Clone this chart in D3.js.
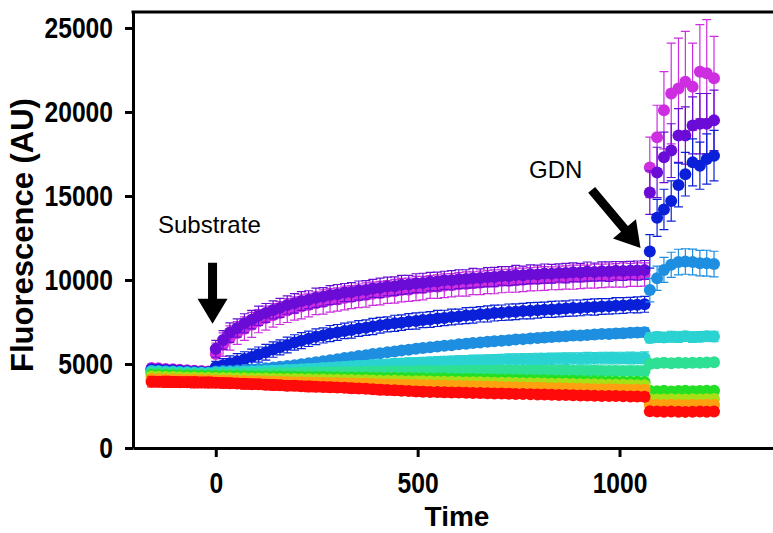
<!DOCTYPE html>
<html>
<head>
<meta charset="utf-8">
<script src="https://cdn.jsdelivr.net/npm/d3@7"></script>
<style>
  body { margin: 0; background: #fff; }
  text { font-family: "Liberation Sans", Arial, sans-serif; }
</style>
</head>
<body>
<div class="container"></div>
<script>
// time (s): 9 reads before substrate, 61 after substrate, 10 after GDN
var time = [-159, -142, -124, -106, -89, -71, -53, -35, -18,
  0, 18, 35, 53, 71, 89, 106, 124, 142, 159, 177, 195, 212, 230, 248, 266, 283, 301, 319, 336,
  354, 372, 389, 407, 425, 443, 460, 478, 496, 513, 531, 549, 566, 584, 602, 620, 637, 655, 673, 690,
  708, 726, 743, 761, 779, 797, 814, 832, 850, 867, 885, 903, 920, 938, 956, 974, 991, 1009, 1027, 1044, 1062,
  1075, 1093, 1110, 1128, 1146, 1163, 1181, 1199, 1216, 1234];

var magenta = [4760, 4740, 4700, 4690, 4650, 4630, 4600, 4580, 4560,
  5600, 6150, 6550, 6850, 7100, 7330, 7550, 7730, 7900, 8030, 8180, 8300, 8420, 8510, 8620, 8690, 8790, 8840, 8930, 8980,
  9060, 9110, 9180, 9220, 9290, 9330, 9400, 9420, 9490, 9520, 9580, 9600, 9660, 9690, 9740, 9760, 9810, 9830, 9880, 9890,
  9940, 9950, 9990, 10010, 10040, 10060, 10090, 10100, 10130, 10150, 10170, 10190, 10200, 10230, 10240, 10260, 10270, 10290, 10300, 10320, 10330,
  16700, 18500, 20100, 21100, 21400, 21800, 21500, 22400, 22300, 22000];
var violet = [4700, 4690, 4650, 4640, 4610, 4590, 4570, 4530, 4520,
  5900, 6430, 6870, 7140, 7420, 7640, 7870, 8040, 8220, 8340, 8510, 8610, 8750, 8820, 8940, 9000, 9100, 9150, 9250, 9280,
  9370, 9410, 9500, 9530, 9610, 9630, 9710, 9730, 9810, 9820, 9900, 9910, 9980, 9990, 10050, 10060, 10110, 10120, 10170, 10180,
  10240, 10230, 10290, 10280, 10340, 10330, 10380, 10370, 10420, 10410, 10460, 10440, 10500, 10470, 10520, 10500, 10550, 10530, 10570, 10560, 10600,
  15200, 16400, 17300, 17700, 18600, 18600, 19200, 19300, 19300, 19500];
var blue = [4660, 4640, 4620, 4600, 4570, 4550, 4530, 4510, 4480,
  4800, 4920, 5050, 5170, 5290, 5420, 5560, 5700, 5860, 5990, 6130, 6280, 6390, 6500, 6620, 6700, 6810, 6880, 6970, 7020,
  7110, 7160, 7230, 7310, 7360, 7420, 7460, 7530, 7560, 7620, 7650, 7710, 7740, 7800, 7820, 7880, 7900, 7960, 7980, 8030,
  8050, 8090, 8110, 8150, 8170, 8200, 8230, 8250, 8280, 8300, 8330, 8340, 8380, 8390, 8420, 8430, 8470, 8480, 8510, 8520, 8550,
  11700, 13700, 14200, 14700, 15650, 16300, 17000, 16800, 17200, 17400];
var sky = [4600, 4590, 4570, 4560, 4540, 4530, 4510, 4500, 4480,
  4560, 4580, 4590, 4610, 4640, 4670, 4700, 4740, 4790, 4830, 4880, 4930, 4990, 5040, 5110, 5160, 5230, 5280, 5350, 5400,
  5470, 5520, 5590, 5640, 5700, 5750, 5810, 5850, 5910, 5950, 6000, 6040, 6090, 6120, 6170, 6200, 6250, 6280, 6320, 6350,
  6390, 6420, 6460, 6480, 6520, 6540, 6580, 6600, 6630, 6650, 6690, 6700, 6730, 6750, 6780, 6790, 6820, 6830, 6860, 6870, 6890,
  9400, 10100, 10600, 10900, 11070, 11100, 11070, 11000, 11000, 10950];
var turquoise = [4560, 4550, 4530, 4520, 4500, 4490, 4470, 4460, 4450,
  4500, 4510, 4520, 4530, 4540, 4560, 4570, 4590, 4600, 4620, 4640, 4660, 4680, 4700, 4720, 4750, 4770, 4800, 4820, 4850,
  4870, 4900, 4920, 4950, 4970, 5000, 5020, 5040, 5060, 5080, 5100, 5120, 5130, 5150, 5170, 5180, 5200, 5210, 5220, 5240,
  5250, 5260, 5270, 5280, 5290, 5300, 5300, 5310, 5320, 5320, 5330, 5330, 5340, 5340, 5350, 5350, 5350, 5360, 5360, 5360, 5370,
  6550, 6600, 6580, 6620, 6600, 6650, 6600, 6620, 6650, 6640];
var spring = [4460, 4450, 4440, 4430, 4420, 4410, 4400, 4390, 4380,
  4400, 4410, 4410, 4420, 4420, 4430, 4440, 4440, 4450, 4460, 4460, 4470, 4480, 4490, 4490, 4500, 4510, 4510, 4520, 4530,
  4530, 4540, 4540, 4550, 4550, 4560, 4560, 4570, 4570, 4580, 4580, 4580, 4590, 4590, 4590, 4600, 4600, 4600, 4600, 4610,
  4610, 4610, 4610, 4600, 4610, 4600, 4610, 4600, 4600, 4610, 4600, 4600, 4590, 4600, 4590, 4590, 4590, 4580, 4590, 4580, 4580,
  5000, 5050, 5080, 5050, 5070, 5060, 5080, 5070, 5090, 5100];
var green = [4360, 4350, 4340, 4330, 4320, 4310, 4300, 4300, 4290,
  4290, 4290, 4280, 4280, 4270, 4270, 4260, 4260, 4250, 4250, 4240, 4240, 4230, 4230, 4220, 4220, 4210, 4210, 4200, 4200,
  4190, 4190, 4180, 4180, 4170, 4170, 4160, 4160, 4150, 4150, 4140, 4130, 4130, 4120, 4110, 4110, 4100, 4090, 4090, 4080,
  4070, 4060, 4060, 4050, 4040, 4030, 4030, 4020, 4010, 4000, 4000, 3990, 3980, 3980, 3970, 3960, 3960, 3950, 3940, 3940, 3930,
  3400, 3380, 3400, 3370, 3390, 3400, 3380, 3390, 3400, 3410];
var yellowGreen = [4250, 4240, 4230, 4220, 4210, 4200, 4190, 4180, 4180,
  4170, 4170, 4160, 4150, 4150, 4140, 4130, 4130, 4120, 4110, 4110, 4100, 4090, 4090, 4080, 4070, 4060, 4060, 4050, 4040,
  4030, 4030, 4020, 4010, 4000, 4000, 3990, 3980, 3970, 3970, 3960, 3950, 3940, 3940, 3930, 3920, 3910, 3910, 3900, 3890,
  3880, 3880, 3870, 3860, 3850, 3850, 3840, 3830, 3820, 3820, 3810, 3800, 3790, 3790, 3780, 3770, 3760, 3760, 3750, 3740, 3730,
  2900, 2890, 2880, 2900, 2890, 2880, 2900, 2890, 2900, 2910];
var orange = [4100, 4090, 4080, 4070, 4060, 4050, 4050, 4040, 4030,
  4020, 4010, 4000, 3990, 3980, 3980, 3970, 3960, 3950, 3940, 3930, 3920, 3910, 3900, 3890, 3880, 3870, 3860, 3850, 3840,
  3830, 3820, 3810, 3800, 3790, 3780, 3770, 3760, 3750, 3740, 3730, 3720, 3710, 3700, 3690, 3680, 3670, 3660, 3650, 3640,
  3630, 3620, 3610, 3600, 3590, 3580, 3570, 3560, 3550, 3540, 3530, 3520, 3510, 3500, 3490, 3490, 3480, 3470, 3460, 3460, 3450,
  2580, 2570, 2560, 2570, 2560, 2550, 2570, 2560, 2570, 2580];
var red = [3950, 3940, 3940, 3930, 3920, 3920, 3910, 3900, 3900,
  3890, 3870, 3860, 3840, 3820, 3800, 3790, 3770, 3750, 3730, 3710, 3700, 3680, 3660, 3650, 3630, 3620, 3600, 3580, 3560,
  3540, 3520, 3500, 3470, 3450, 3430, 3410, 3390, 3370, 3350, 3340, 3330, 3320, 3310, 3300, 3290, 3280, 3270, 3260, 3250,
  3240, 3230, 3220, 3210, 3200, 3190, 3180, 3170, 3160, 3150, 3140, 3130, 3120, 3110, 3100, 3100, 3090, 3080, 3070, 3060, 3050,
  2180, 2170, 2160, 2170, 2160, 2150, 2160, 2170, 2160, 2170];

// SD for each read
var magentaErr = [220, 210, 230, 200, 210, 220, 200, 210, 200,
  650, 700, 720, 680, 700, 740, 690, 720, 700, 680, 710, 690, 730, 700, 680, 720, 700, 690, 710, 680,
  700, 720, 690, 700, 680, 710, 700, 690, 720, 700, 680, 700, 710, 690, 700, 720, 680, 700, 690, 710,
  700, 680, 720, 700, 690, 700, 710, 680, 700, 690, 720, 700, 680, 710, 700, 690, 700, 720, 680, 700, 690,
  1800, 1900, 2300, 3000, 3000, 3000, 2600, 2800, 3200, 2500];
var violetErr = [180, 170, 190, 160, 180, 170, 160, 180, 170,
  500, 560, 580, 540, 570, 550, 580, 560, 540, 570, 550, 580, 560, 540, 570, 550, 560, 580, 540, 560,
  570, 550, 540, 580, 560, 550, 570, 540, 560, 580, 550, 560, 540, 570, 560, 550, 580, 540, 560, 570,
  550, 560, 580, 540, 560, 550, 570, 560, 540, 580, 560, 550, 570, 540, 560, 580, 550, 560, 540, 570, 560,
  1300, 1500, 1500, 1600, 1600, 1700, 1700, 1800, 1800, 1800];
var blueErr = [160, 150, 170, 150, 160, 150, 170, 150, 160,
  350, 400, 430, 450, 440, 460, 450, 470, 460, 450, 470, 460, 480, 460, 470, 450, 480, 470, 460, 480,
  470, 460, 480, 470, 450, 480, 460, 470, 480, 460, 470, 480, 460, 470, 450, 480, 470, 460, 480, 470,
  460, 480, 470, 460, 480, 470, 450, 480, 470, 460, 480, 470, 460, 480, 470, 460, 480, 470, 460, 480, 470,
  1000, 1100, 1200, 1200, 1300, 1300, 1400, 1400, 1500, 1500];
var skyErr = [150, 140, 160, 150, 140, 150, 160, 140, 150,
  150, 160, 170, 160, 180, 170, 180, 190, 180, 190, 200, 190, 200, 210, 200, 210, 200, 210, 220, 210,
  220, 210, 220, 210, 220, 230, 220, 230, 220, 230, 220, 230, 240, 230, 240, 230, 240, 230, 240, 250,
  240, 250, 240, 250, 240, 250, 260, 250, 260, 250, 260, 250, 260, 250, 260, 270, 260, 270, 260, 270, 260,
  700, 720, 740, 750, 760, 760, 770, 760, 770, 760];
var turquoiseErr = [220, 210, 230, 220, 210, 220, 230, 210, 220,
  250, 260, 270, 260, 270, 280, 270, 280, 290, 280, 290, 280, 290, 300, 290, 300, 290, 300, 310, 300,
  310, 300, 310, 300, 310, 320, 310, 320, 310, 320, 310, 320, 330, 320, 330, 320, 330, 320, 330, 320,
  330, 340, 330, 340, 330, 340, 330, 340, 330, 340, 330, 340, 350, 340, 350, 340, 350, 340, 350, 340, 350,
  300, 310, 300, 320, 310, 300, 320, 310, 300, 310];
var springErr = [230, 240, 220, 230, 240, 230, 220, 240, 230,
  240, 250, 240, 260, 250, 240, 260, 250, 260, 250, 260, 250, 270, 260, 250, 270, 260, 270, 260, 250,
  270, 260, 270, 260, 270, 280, 270, 260, 280, 270, 280, 270, 260, 280, 270, 280, 270, 280, 270, 260,
  280, 270, 280, 270, 280, 290, 280, 270, 290, 280, 270, 290, 280, 290, 280, 270, 290, 280, 290, 280, 290,
  220, 230, 220, 240, 230, 220, 230, 240, 230, 220];
var greenErr = [200, 210, 190, 200, 210, 200, 190, 210, 200,
  200, 210, 200, 190, 210, 200, 210, 200, 190, 210, 200, 210, 200, 210, 190, 200, 210, 200, 210, 200,
  190, 210, 200, 210, 200, 210, 190, 200, 210, 200, 210, 200, 190, 210, 200, 210, 200, 210, 190, 200,
  210, 200, 210, 200, 190, 210, 200, 210, 200, 210, 190, 200, 210, 200, 210, 200, 190, 210, 200, 210, 200,
  150, 160, 150, 140, 150, 160, 150, 140, 150, 160];
var yellowGreenErr = [210, 200, 220, 210, 200, 210, 220, 200, 210,
  210, 200, 220, 210, 200, 220, 210, 200, 210, 220, 200, 210, 220, 200, 210, 220, 210, 200, 220, 210,
  200, 210, 220, 210, 200, 220, 210, 200, 210, 220, 200, 210, 220, 200, 210, 220, 210, 200, 220, 210,
  200, 210, 220, 210, 200, 220, 210, 200, 210, 220, 200, 210, 220, 200, 210, 220, 210, 200, 220, 210, 200,
  150, 140, 150, 160, 150, 140, 150, 160, 150, 140];
var orangeErr = [270, 260, 280, 270, 260, 270, 280, 260, 270,
  260, 270, 260, 280, 270, 260, 270, 280, 260, 270, 280, 270, 260, 270, 280, 270, 260, 280, 270, 260,
  270, 280, 260, 270, 280, 270, 260, 270, 280, 260, 270, 280, 270, 260, 270, 280, 260, 270, 280, 270,
  260, 270, 280, 270, 260, 280, 270, 260, 270, 280, 270, 260, 270, 280, 260, 270, 280, 270, 260, 270, 280,
  160, 150, 160, 170, 160, 150, 160, 170, 160, 150];
var redErr = [320, 310, 330, 320, 310, 320, 330, 310, 320,
  300, 310, 300, 290, 310, 300, 290, 300, 310, 290, 300, 290, 280, 300, 290, 280, 290, 280, 270, 290,
  280, 270, 280, 290, 270, 280, 270, 260, 280, 270, 260, 270, 280, 260, 270, 260, 250, 270, 260, 250,
  260, 270, 250, 260, 250, 240, 260, 250, 240, 250, 260, 240, 250, 240, 230, 250, 240, 230, 240, 250, 240,
  170, 160, 170, 180, 170, 160, 170, 180, 170, 160];

var seriesValues = [magenta, violet, blue, sky, turquoise, spring, green, yellowGreen, orange, red];
var seriesErrors = [magentaErr, violetErr, blueErr, skyErr, turquoiseErr, springErr, greenErr, yellowGreenErr, orangeErr, redErr];
var seriesColors = ["#cc2ee0", "#6a0cd6", "#0a20d8", "#1e8ee0", "#2ad2d2", "#2ee094", "#24e024", "#a6e016", "#ffa010", "#ff0a0a"];

var yTicks = [0, 5000, 10000, 15000, 20000, 25000];
var xTicks = [0, 500, 1000];

var notes = [
  {label: "Substrate", t: -8, v: 7400, angle: 90, length: 61},
  {label: "GDN", t: 1052, v: 11900, angle: 50, length: 76}
];

const WIDTH = 773;
const HEIGHT = 533;
const LEFT = 133;
const BOTTOM = 448;
const SQUEEZE = 0.85; // tick labels are set in a narrow bold face

var translate = function(x, y){
  return "translate(" + x + "," + y + ")";
};

var xScale = d3.scaleLinear().domain([-205, 1390]).range([LEFT, 777]);
var yScale = d3.scaleLinear().domain([0, 25950]).range([BOTTOM, 12]);

var svg = d3.select(".container").append("svg")
  .attr("width", WIDTH)
  .attr("height", HEIGHT);

// data: error bars under the dots, series by series
var plot = svg.append("g");
seriesValues.forEach(function(vals, s){
  var pts = vals.map(function(v, i){ return {t: time[i], v: v, e: seriesErrors[s][i]}; });
  var g = plot.append("g").attr("stroke", seriesColors[s]).attr("fill", seriesColors[s]);
  g.selectAll(".bar").data(pts).enter().append("path")
    .attr("class", "bar")
    .attr("fill", "none")
    .attr("stroke-width", 1.2)
    .attr("d", function(d){
      var x = xScale(d.t), y1 = yScale(d.v + d.e), y0 = yScale(d.v - d.e);
      return "M" + x + "," + y0 + "V" + y1 +
        "M" + (x - 4.5) + "," + y1 + "H" + (x + 4.5) +
        "M" + (x - 4.5) + "," + y0 + "H" + (x + 4.5);
    });
  g.selectAll("circle").data(pts).enter().append("circle")
    .attr("stroke", "none")
    .attr("cx", function(d){ return xScale(d.t); })
    .attr("cy", function(d){ return yScale(d.v); })
    .attr("r", 6);
});

// axes and frame
var yAxis = d3.axisLeft(yScale).tickValues(yTicks).tickFormat(d3.format("d")).tickSize(8).tickSizeOuter(0);
var xAxis = d3.axisBottom(xScale).tickValues(xTicks).tickFormat(d3.format("d")).tickSize(9).tickSizeOuter(0).tickPadding(15);

var gy = svg.append("g").attr("transform", translate(LEFT, 0)).call(yAxis);
var gx = svg.append("g").attr("transform", translate(0, BOTTOM)).call(xAxis);
[gy, gx].forEach(function(g){
  g.selectAll("path, line").attr("stroke", "#000").attr("stroke-width", 3);
  g.selectAll("text").attr("fill", "#000")
    .attr("transform", "scale(" + SQUEEZE + ",1)")
    .style("font-family", "'Liberation Sans', Arial, sans-serif")
    .style("font-weight", "bold").style("font-size", "29px");
});
gy.selectAll("text").attr("x", -20 / SQUEEZE);

svg.append("line")
  .attr("x1", LEFT - 1.5).attr("x2", 777)
  .attr("y1", yScale.range()[1]).attr("y2", yScale.range()[1])
  .attr("stroke", "#000").attr("stroke-width", 3);

svg.append("text")
  .attr("transform", translate(33, 235) + " rotate(-90)")
  .attr("text-anchor", "middle")
  .style("font-weight", "bold").style("font-size", "31px")
  .text("Fluorescence (AU)");
svg.append("text")
  .attr("x", 457).attr("y", 526)
  .attr("text-anchor", "middle")
  .style("font-weight", "bold").style("font-size", "28px")
  .text("Time");

// annotations with arrows
var arrowPath = function(len){
  var hl = 25, hw = 15, sw = 4.5;
  return "M0,0L" + (-hl) + "," + (-hw) + "L" + (-hl) + "," + (-sw) + "L" + (-len) + "," + (-sw) +
    "L" + (-len) + "," + sw + "L" + (-hl) + "," + sw + "L" + (-hl) + "," + hw + "Z";
};
notes.forEach(function(n){
  svg.append("path")
    .attr("transform", translate(xScale(n.t), yScale(n.v)) + " rotate(" + n.angle + ")")
    .attr("d", arrowPath(n.length))
    .attr("fill", "#000");
});
svg.append("text").attr("x", 158).attr("y", 233).style("font-size", "24px").text(notes[0].label);
svg.append("text").attr("x", 529).attr("y", 178).style("font-size", "24px").text(notes[1].label);
</script>
</body>
</html>
